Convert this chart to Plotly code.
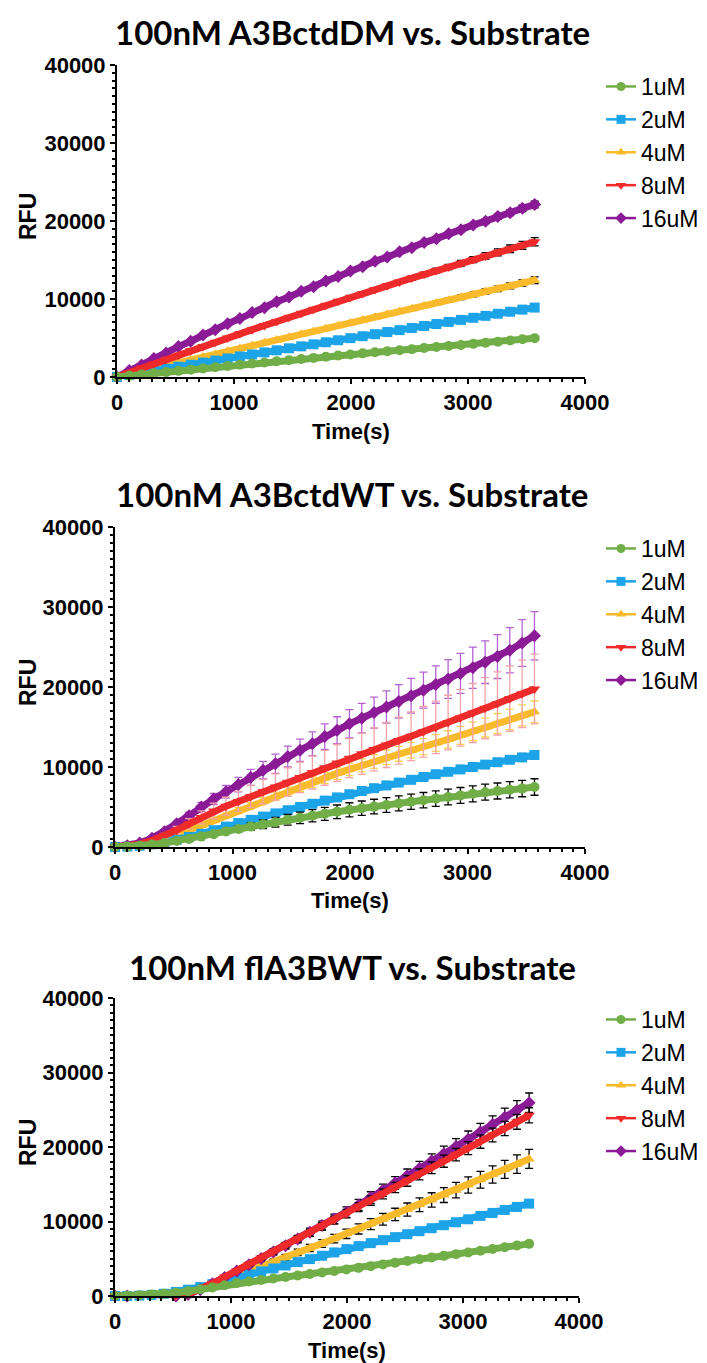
import plotly.graph_objects as go

# ---------------- data ----------------
time_s = [0, 105, 210, 315, 420, 525, 630, 735, 840, 945, 1050, 1155, 1260, 1365, 1470, 1575, 1680,
          1785, 1890, 1995, 2100, 2205, 2310, 2415, 2520, 2625, 2730, 2835, 2940, 3045, 3150, 3255,
          3360, 3465, 3570]

series_names = ["1uM", "2uM", "4uM", "8uM", "16uM"]
panel_titles = ["100nM A3BctdDM vs. Substrate", "100nM A3BctdWT vs. Substrate",
                "100nM flA3BWT vs. Substrate"]
x_ticks = [0, 1000, 2000, 3000, 4000]
y_ticks = [0, 10000, 20000, 30000, 40000]

# Panel 1: A3BctdDM
dm_1uM = [0, 160, 315, 470, 630, 790, 945, 1100, 1260, 1420, 1570, 1720, 1860, 2010, 2160, 2300, 2450,
          2600, 2750, 2890, 3030, 3170, 3300, 3440, 3570, 3710, 3840, 3980, 4110, 4250, 4390, 4530,
          4680, 4830, 4980]
dm_2uM = [0, 250, 520, 790, 1060, 1320, 1580, 1850, 2110, 2380, 2640, 2890, 3150, 3420, 3680, 3930,
          4190, 4450, 4710, 4980, 5230, 5490, 5760, 6010, 6280, 6540, 6790, 7060, 7320, 7590, 7840,
          8110, 8370, 8640, 8900]
dm_4uM = [0, 360, 735, 1100, 1460, 1830, 2190, 2560, 2920, 3290, 3650, 4020, 4380, 4750, 5110, 5470,
          5840, 6200, 6570, 6930, 7300, 7660, 8030, 8390, 8760, 9120, 9490, 9850, 10220, 10580, 10950,
          11310, 11680, 12040, 12410]
dm_8uM = [0, 570, 1140, 1700, 2260, 2810, 3370, 3910, 4460, 5000, 5540, 6070, 6600, 7130, 7650, 8170,
          8680, 9200, 9700, 10210, 10710, 11210, 11700, 12190, 12680, 13160, 13640, 14110, 14590,
          15050, 15520, 15980, 16440, 16890, 17340]
dm_16uM = [0, 820, 1540, 2380, 3080, 3900, 4580, 5380, 6050, 6840, 7490, 8260, 8890, 9640, 10260,
           10990, 11580, 12310, 12880, 13590, 14150, 14840, 15380, 16060, 16580, 17230, 17740, 18380,
           18880, 19500, 19980, 20570, 21050, 21620, 22100]
dm_4uM_sd = [0, 0, 0, 0, 0, 0, 0, 0, 0, 0, 0, 0, 0, 0, 0, 0, 0, 0, 0, 0, 0, 0, 0, 0, 0, 0,
             250, 270, 290, 310, 330, 350, 370, 400, 430]
dm_8uM_sd = [0, 0, 0, 0, 0, 0, 0, 0, 0, 0, 0, 0, 0, 0, 0, 0, 0, 0, 0, 0, 0, 0, 0, 0,
             250, 280, 300, 330, 360, 390, 420, 450, 480, 510, 540]
dm_16uM_sd = [0, 0, 0, 0, 0, 0, 0, 0, 0, 0, 0, 0, 0, 0, 0, 0, 0, 0, 0, 0, 0, 0, 0, 0, 0,
              200, 220, 240, 260, 280, 300, 330, 360, 400, 430]

# Panel 2: A3BctdWT
wt_1uM = [0, 50, 150, 300, 500, 750, 1000, 1300, 1600, 1950, 2250, 2550, 2850, 3100, 3400, 3650, 3900,
          4150, 4400, 4650, 4850, 5050, 5250, 5450, 5650, 5850, 6050, 6250, 6450, 6650, 6850, 7000,
          7150, 7300, 7500]
wt_2uM = [0, 50, 150, 350, 600, 900, 1250, 1650, 2100, 2550, 3000, 3400, 3800, 4200, 4600, 5000, 5400,
          5800, 6200, 6600, 7000, 7350, 7700, 8050, 8400, 8750, 9100, 9400, 9700, 10000, 10300, 10600,
          10900, 11200, 11500]
wt_4uM = [0, 80, 250, 550, 1000, 1500, 2100, 2700, 3300, 3950, 4550, 5150, 5750, 6350, 6950, 7550,
          8100, 8650, 9200, 9700, 10200, 10700, 11200, 11650, 12100, 12550, 13000, 13450, 13950,
          14450, 14950, 15450, 15950, 16450, 16900]
wt_8uM = [0, 100, 350, 800, 1400, 2100, 2900, 3700, 4500, 5100, 5700, 6300, 6900, 7500, 8100, 8700,
          9300, 9900, 10500, 11100, 11650, 12200, 12750, 13300, 13850, 14400, 14950, 15550, 16150,
          16750, 17350, 17950, 18550, 19150, 19750]
wt_16uM = [0, 150, 500, 1100, 1900, 2900, 3900, 5000, 6000, 6900, 7800, 8700, 9600, 10400, 11300,
           12100, 12900, 13800, 14600, 15400, 16100, 16800, 17500, 18200, 18900, 19600, 20300, 21000,
           21700, 22400, 23100, 23800, 24600, 25500, 26400]
wt_1uM_sd = [0, 0, 0, 0, 0, 0, 80, 160, 240, 320, 400, 470, 540, 600, 660, 720, 770, 810, 850, 880,
             900, 920, 930, 940, 950, 960, 970, 980, 990, 1000, 1000, 1000, 1010, 1020, 1030]
wt_4uM_sd = [0, 10, 20, 40, 80, 120, 170, 220, 260, 320, 360, 410, 460, 510, 560, 600, 650, 690, 740,
             780, 820, 860, 900, 930, 970, 1000, 1040, 1080, 1120, 1160, 1200, 1240, 1280, 1320, 1350]
wt_8uM_sd = [0, 20, 80, 180, 310, 460, 640, 810, 990, 1120, 1250, 1390, 1520, 1650, 1780, 1910, 2050,
             2180, 2310, 2440, 2560, 2680, 2810, 2930, 3050, 3170, 3290, 3420, 3550, 3690, 3820, 3950,
             4080, 4210, 4350]
wt_16uM_sd = [0, 20, 60, 130, 220, 330, 450, 580, 690, 790, 900, 1000, 1100, 1200, 1300, 1390, 1480,
              1590, 1680, 1770, 1850, 1930, 2010, 2090, 2170, 2250, 2330, 2420, 2500, 2580, 2660,
              2740, 2830, 2920, 3010]

# Panel 3: flA3BWT
fl_1uM = [0, 50, 100, 200, 300, 450, 650, 900, 1150, 1450, 1750, 1950, 2150, 2350, 2550, 2750, 2950,
          3150, 3350, 3550, 3780, 4010, 4240, 4470, 4700, 4930, 5160, 5390, 5620, 5850, 6080, 6310,
          6540, 6770, 7000]
fl_2uM = [0, 0, 50, 150, 300, 550, 850, 1200, 1600, 2050, 2500, 2900, 3300, 3700, 4100, 4550, 4950,
          5400, 5850, 6300, 6700, 7100, 7500, 7900, 8300, 8700, 9100, 9500, 9900, 10300, 10750, 11150,
          11550, 11950, 12400]
fl_4uM = [0, 0, -100, -150, -100, 50, 400, 900, 1500, 2150, 2800, 3400, 4000, 4600, 5200, 5850, 6450,
          7050, 7700, 8350, 9000, 9650, 10300, 10950, 11600, 12250, 12900, 13550, 14200, 14900, 15600,
          16300, 17000, 17700, 18400]
fl_8uM = [0, 0, -50, -100, -100, 0, 250, 900, 1700, 2550, 3400, 4250, 5100, 5950, 6800, 7650, 8500,
          9350, 10200, 11050, 11930, 12810, 13690, 14570, 15450, 16330, 17210, 18090, 18970, 19850,
          20730, 21610, 22490, 23370, 24250]
fl_16uM = [0, 0, -50, -100, -100, 0, 200, 850, 1650, 2500, 3350, 4200, 5050, 5900, 6750, 7650, 8550,
           9450, 10350, 11250, 12230, 13210, 14190, 15170, 16150, 17130, 18110, 19090, 20070, 21050,
           22030, 23010, 23990, 24970, 25950]
fl_4uM_sd = [0, 0, 0, 0, 0, 0, 40, 80, 120, 160, 200, 240, 280, 330, 380, 430, 480, 530, 580, 630,
             680, 730, 780, 830, 880, 920, 960, 1000, 1040, 1080, 1120, 1160, 1200, 1240, 1280]
fl_8uM_sd = [0, 0, 0, 0, 0, 0, 50, 90, 130, 170, 210, 250, 290, 330, 370, 410, 450, 490, 530, 570,
             600, 630, 660, 690, 720, 750, 780, 810, 840, 870, 900, 930, 960, 990, 1020]
fl_16uM_sd = [0, 0, 0, 0, 0, 0, 50, 100, 150, 200, 250, 300, 350, 400, 450, 500, 550, 600, 650, 700,
              740, 780, 820, 860, 900, 940, 980, 1020, 1060, 1100, 1140, 1180, 1220, 1260, 1300]

# ---------------- style ----------------
colors = {"1uM": "#71AE48", "2uM": "#1DA3E8", "4uM": "#F9BA2B", "8uM": "#EE2A2A", "16uM": "#8B1A96"}
symbols = {"1uM": "circle", "2uM": "square", "4uM": "triangle-up", "8uM": "triangle-down",
           "16uM": "diamond"}

panels = [
    {"vals": {"1uM": dm_1uM, "2uM": dm_2uM, "4uM": dm_4uM, "8uM": dm_8uM, "16uM": dm_16uM},
     "sd": {"4uM": dm_4uM_sd, "8uM": dm_8uM_sd, "16uM": dm_16uM_sd},
     "sdcol": {"4uM": "black", "8uM": "black", "16uM": "black"}},
    {"vals": {"1uM": wt_1uM, "2uM": wt_2uM, "4uM": wt_4uM, "8uM": wt_8uM, "16uM": wt_16uM},
     "sd": {"1uM": wt_1uM_sd, "4uM": wt_4uM_sd, "8uM": wt_8uM_sd, "16uM": wt_16uM_sd},
     "sdcol": {"1uM": "black", "4uM": "#F6D64A", "8uM": "#F4A3A8", "16uM": "#B464D2"}},
    {"vals": {"1uM": fl_1uM, "2uM": fl_2uM, "4uM": fl_4uM, "8uM": fl_8uM, "16uM": fl_16uM},
     "sd": {"4uM": fl_4uM_sd, "8uM": fl_8uM_sd, "16uM": fl_16uM_sd},
     "sdcol": {"4uM": "black", "8uM": "black", "16uM": "black"}},
]

# The page body has an 8px default margin, so the figure is drawn 8px smaller and
# all target page-pixel positions are shifted by that offset.
OFF = 8
W = 707.0 - OFF
H = 1363.0 - OFF


def px(v):
    return (v - OFF) / W


def py(v):
    return 1 - (v - OFF) / H


# target page-pixel geometry of each panel: (x0, x1, y_top, y_bottom)
geo = [(117, 585, 65, 377), (115, 585, 527, 847), (115, 579, 998, 1296)]
title_y = [32, 494, 967]

fig = go.Figure()
draw_order = ["4uM", "2uM", "16uM", "8uM", "1uM"]
legend_ids = ["legend", "legend2", "legend3"]

for i, p in enumerate(panels):
    xa = "x" if i == 0 else f"x{i+1}"
    ya = "y" if i == 0 else f"y{i+1}"
    for name in draw_order:
        sd = p["sd"].get(name)
        err = None
        if sd is not None:
            err = dict(type="data", array=sd, visible=True, color=p["sdcol"][name],
                       thickness=1.3, width=4)
        fig.add_trace(go.Scatter(
            x=time_s, y=p["vals"][name], mode="lines+markers", xaxis=xa, yaxis=ya,
            line=dict(color=colors[name], width=7),
            marker=dict(symbol=symbols[name], size=10, color=colors[name]),
            error_y=err, showlegend=False, cliponaxis=False, hoverinfo="skip"))
    for name in series_names:
        fig.add_trace(go.Scatter(
            x=[None], y=[None], mode="lines+markers", xaxis=xa, yaxis=ya, name=name,
            line=dict(color=colors[name], width=2.5),
            marker=dict(symbol=symbols[name], size=9, color=colors[name]),
            legend=legend_ids[i], showlegend=True))

tickfont = dict(family="Liberation Sans", size=22, color="black", weight="bold")
layout = dict(width=int(W), height=int(H), margin=dict(l=0, r=0, t=0, b=0, autoexpand=False),
              paper_bgcolor="white", plot_bgcolor="white", annotations=[])

for i, (x0, x1, yt, yb) in enumerate(geo):
    xk = "xaxis" if i == 0 else f"xaxis{i+1}"
    yk = "yaxis" if i == 0 else f"yaxis{i+1}"
    xa = "x" if i == 0 else f"x{i+1}"
    ya = "y" if i == 0 else f"y{i+1}"
    layout[xk] = dict(domain=[px(x0), px(x1)], anchor=ya, range=[0, 4000], tickvals=x_ticks,
                      tickformat="d", showgrid=False, zeroline=False, showline=True,
                      linecolor="black", linewidth=2, ticks="outside", ticklen=5, tickwidth=2,
                      tickcolor="black", tickfont=tickfont,
                      minor=dict(dtick=100, tick0=0, ticks="outside", ticklen=3, tickwidth=1.5,
                                 tickcolor="black", showgrid=False))
    layout[yk] = dict(domain=[py(yb), py(yt)], anchor=xa, range=[0, 40000], tickvals=y_ticks,
                      tickformat="d", showgrid=False, zeroline=False, showline=True,
                      linecolor="black", linewidth=2, ticks="outside", ticklen=5, tickwidth=2,
                      tickcolor="black", tickfont=tickfont,
                      minor=dict(dtick=1000, tick0=0, ticks="outside", ticklen=3, tickwidth=1.5,
                                 tickcolor="black", showgrid=False))
    layout[legend_ids[i]] = dict(x=px(601), y=py(yt), xanchor="left", yanchor="top",
                                 font=dict(family="Liberation Sans", size=23, color="black"),
                                 bgcolor="rgba(0,0,0,0)", traceorder="normal",
                                 tracegroupgap=0, itemwidth=30)
    layout["annotations"].append(dict(
        text=panel_titles[i], x=px(352), y=py(title_y[i]), xref="paper", yref="paper",
        showarrow=False, xanchor="center", yanchor="middle",
        font=dict(family="Lato", size=33, color="black", weight="bold")))
    layout["annotations"].append(dict(
        text="RFU", x=px(28), y=py((yt + yb) / 2 - 4), xref="paper", yref="paper", textangle=-90,
        showarrow=False, xanchor="center", yanchor="middle",
        font=dict(family="Liberation Sans", size=23, color="black", weight="bold")))
    layout["annotations"].append(dict(
        text="Time(s)", x=px((x0 + x1) / 2), y=py(yb + 54), xref="paper", yref="paper",
        showarrow=False, xanchor="center", yanchor="middle",
        font=dict(family="Liberation Sans", size=22, color="black", weight="bold")))

fig.update_layout(**layout)
fig.write_html("out.html")
